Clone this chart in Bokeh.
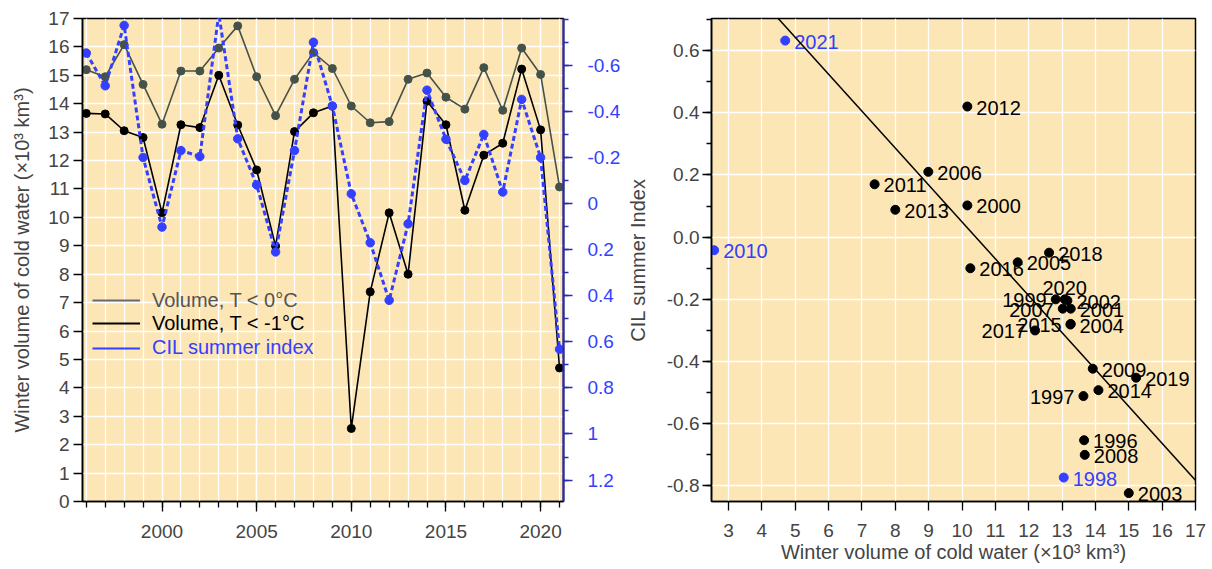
from bokeh.plotting import figure
from bokeh.layouts import row
from bokeh.models import (Range1d, LinearAxis, FixedTicker, CustomJSTickFormatter,
                          PrintfTickFormatter, Legend, LegendItem, ColumnDataSource, Slope)
from bokeh.core.properties import value
from bokeh.embed import file_html
from bokeh.resources import INLINE

# ---------------- data ----------------
years = list(range(1996, 2022))
vol_t0 = [15.20, 14.95, 16.08, 14.68, 13.28, 15.15, 15.15, 15.96, 16.74, 14.95, 13.58, 14.86, 15.80,
          15.24, 13.92, 13.33, 13.37, 14.86, 15.08, 14.23, 13.81, 15.27, 13.77, 15.96, 15.03, 11.07]
vol_tm1 = [13.66, 13.64, 13.05, 12.81, 10.16, 13.26, 13.16, 15.00, 13.25, 11.67, 8.99, 13.02, 13.68,
           13.92, 2.57, 7.38, 10.16, 8.00, 14.09, 13.26, 10.25, 12.19, 12.61, 15.22, 13.08, 4.70]
cil = [-0.653, -0.511, -0.773, -0.200, 0.102, -0.230, -0.204, -0.823, -0.281, -0.081, 0.210, -0.230, -0.700,
       -0.423, -0.042, 0.170, 0.420, 0.088, -0.492, -0.279, -0.100, -0.300, -0.050, -0.452, -0.200, 0.632]
highlight_years = [1998, 2010, 2021]          # shown in blue in the scatter
fit_slope = -0.1187                            # regression line
fit_intercept = 1.236

year_ticks = [2000, 2005, 2010, 2015, 2020]
vol_ticks = list(range(0, 18))
cil_ticks = [-0.6, -0.4, -0.2, 0, 0.2, 0.4, 0.6, 0.8, 1, 1.2]
cil_minor = [-0.8, -0.7, -0.6, -0.5, -0.4, -0.3, -0.2, -0.1, 0, 0.1, 0.2, 0.3, 0.4, 0.5, 0.6, 0.7, 0.8,
             0.9, 1, 1.1, 1.2]
sc_x_ticks = list(range(3, 18))
sc_y_ticks = [-0.8, -0.6, -0.4, -0.2, 0.0, 0.2, 0.4, 0.6]
sc_y_minor = [-0.8, -0.7, -0.6, -0.5, -0.4, -0.3, -0.2, -0.1, 0.0, 0.1, 0.2, 0.3, 0.4, 0.5, 0.6, 0.7]

# label placement style (which side of the dot the year label sits)
label_side = {1997: "left", 2015: "left", 2017: "left", 1999: "left", 2007: "left", 2020: "top"}

# ---------------- style ----------------
FONT = "Liberation Sans"
BG = "#fde6b6"
GREY = "#45524a"
BLUE = "#3340ff"
AXBLUE = "#2b2bab"
TICK_FS = "19px"
LAB_FS = "20px"
NAN = float("nan")


def style_axis(ax, color="black"):
    ax.axis_line_color = color
    ax.axis_line_width = 1.6
    ax.major_tick_line_color = color
    ax.minor_tick_line_color = color
    ax.major_tick_line_width = 1.3
    ax.minor_tick_line_width = 1.3
    ax.major_tick_out = 9
    ax.major_tick_in = 0
    ax.minor_tick_out = 5
    ax.minor_tick_in = 0
    ax.major_label_text_font = FONT
    ax.major_label_text_font_size = TICK_FS
    ax.axis_label_text_font = FONT
    ax.axis_label_text_font_size = LAB_FS
    ax.axis_label_text_font_style = "normal"


# ---------------- left panel ----------------
p1 = figure(width=623, height=565, x_range=Range1d(1995.8, 2021.21), y_range=Range1d(0, 17),
            output_backend="svg", toolbar_location=None,
            min_border_left=82, min_border_right=57, min_border_top=18, min_border_bottom=62)
p1.background_fill_color = BG
p1.border_fill_color = "white"
p1.outline_line_color = "black"
p1.outline_line_width = 1.5
p1.extra_y_ranges = {"cil": Range1d(1.293, -0.803)}

xt = FixedTicker(ticks=year_ticks, minor_ticks=years)
p1.xaxis.ticker = xt
p1.xgrid.ticker = xt
p1.xgrid.grid_line_color = "white"
p1.xgrid.minor_grid_line_color = "white"
p1.xgrid.grid_line_width = 1.3
p1.xgrid.minor_grid_line_width = 1.3
yt = FixedTicker(ticks=vol_ticks)
p1.yaxis.ticker = yt
p1.ygrid.ticker = yt
p1.ygrid.grid_line_color = "white"
p1.ygrid.grid_line_width = 1.3
style_axis(p1.xaxis[0])
p1.xaxis.major_tick_out = 10
p1.xaxis.minor_tick_out = 6
p1.xaxis.major_label_standoff = 13
style_axis(p1.yaxis[0])
p1.yaxis.major_label_standoff = 4
p1.yaxis.axis_label = "Winter volume of cold water (×10³ km³)"
p1.yaxis.axis_label_standoff = 12

rax = LinearAxis(y_range_name="cil", ticker=FixedTicker(ticks=cil_ticks, minor_ticks=cil_minor),
                 formatter=CustomJSTickFormatter(code="return String(tick);"))
style_axis(rax, AXBLUE)
rax.axis_line_width = 2.2
rax.major_label_text_color = BLUE
rax.major_label_standoff = 15
p1.add_layout(rax, "right")

p1.line(years, vol_t0, line_color=GREY, line_width=1.6)
p1.scatter(years, vol_t0, size=8, fill_color=GREY, line_color=GREY)
p1.line(years, vol_tm1, line_color="black", line_width=1.6)
p1.scatter(years, vol_tm1, size=8, fill_color="black", line_color="black")
p1.line(years, cil, y_range_name="cil", line_color=BLUE, line_width=3, line_dash="5 3")
p1.scatter(years, cil, y_range_name="cil", size=8.5, fill_color=BLUE, line_color=BLUE)

# legend (three one-item legends so each label can keep its own colour)
leg_specs = [("Volume, T < 0°C", "#6b6b6b", "#555555", 189.3),
             ("Volume, T < -1°C", "black", "black", 166.1),
             ("CIL summer index", BLUE, BLUE, 141.8)]
for lab, lc, tc, ypos in leg_specs:
    r = p1.line(x=[NAN], y=[NAN], line_color=lc, line_width=1.8)
    leg = Legend(items=[LegendItem(label=lab, renderers=[r])], location=(10, ypos),
                 padding=0, margin=0, spacing=0, glyph_width=48, glyph_height=20, label_height=20,
                 label_standoff=12, label_text_font=FONT, label_text_font_size=LAB_FS,
                 label_text_color=tc, border_line_alpha=0, background_fill_alpha=0)
    p1.add_layout(leg)

# ---------------- right panel ----------------
p2 = figure(width=585, height=565, x_range=Range1d(2.49, 17), y_range=Range1d(-0.85, 0.703),
            output_backend="svg", toolbar_location=None,
            min_border_left=88, min_border_right=13, min_border_top=18, min_border_bottom=62)
p2.background_fill_color = BG
p2.border_fill_color = "white"
p2.outline_line_color = "black"
p2.outline_line_width = 1.5

sxt = FixedTicker(ticks=sc_x_ticks)
p2.xaxis.ticker = sxt
p2.xgrid.ticker = sxt
p2.xgrid.grid_line_color = "white"
p2.xgrid.grid_line_width = 1.3
syt = FixedTicker(ticks=sc_y_ticks, minor_ticks=sc_y_minor)
p2.yaxis.ticker = syt
p2.ygrid.ticker = syt
p2.ygrid.grid_line_color = "white"
p2.ygrid.grid_line_width = 1.3
p2.yaxis.formatter = PrintfTickFormatter(format="%.1f")
style_axis(p2.xaxis[0])
style_axis(p2.yaxis[0])
p2.xaxis.major_label_standoff = 13
p2.xaxis.axis_label = "Winter volume of cold water (×10³ km³)"
p2.xaxis.axis_label_standoff = 1
p2.yaxis.major_label_standoff = 3
p2.yaxis.axis_label = "CIL summer Index"
p2.yaxis.axis_label_standoff = 15

p2.add_layout(Slope(gradient=fit_slope, y_intercept=fit_intercept, line_color="black", line_width=1.5))

colors = [BLUE if y in highlight_years else "black" for y in years]
p2.scatter(vol_tm1, cil, size=9, fill_color=colors, line_color=colors)

for side, align, base, dx, dy in [("right", "left", "middle", 9, 1), ("left", "right", "middle", -9, 1),
                                   ("top", "center", "bottom", 0, -4)]:
    idx = [i for i, y in enumerate(years) if label_side.get(y, "right") == side]
    src = ColumnDataSource(dict(x=[vol_tm1[i] for i in idx], y=[cil[i] for i in idx],
                                t=[str(years[i]) for i in idx], c=[colors[i] for i in idx]))
    p2.text(x="x", y="y", text="t", source=src, text_color="c", text_align=align,
            text_baseline=base, x_offset=dx, y_offset=dy,
            text_font=value(FONT), text_font_size=LAB_FS)

layout = row(p1, p2)
open("out.html", "w").write(file_html(layout, INLINE))
